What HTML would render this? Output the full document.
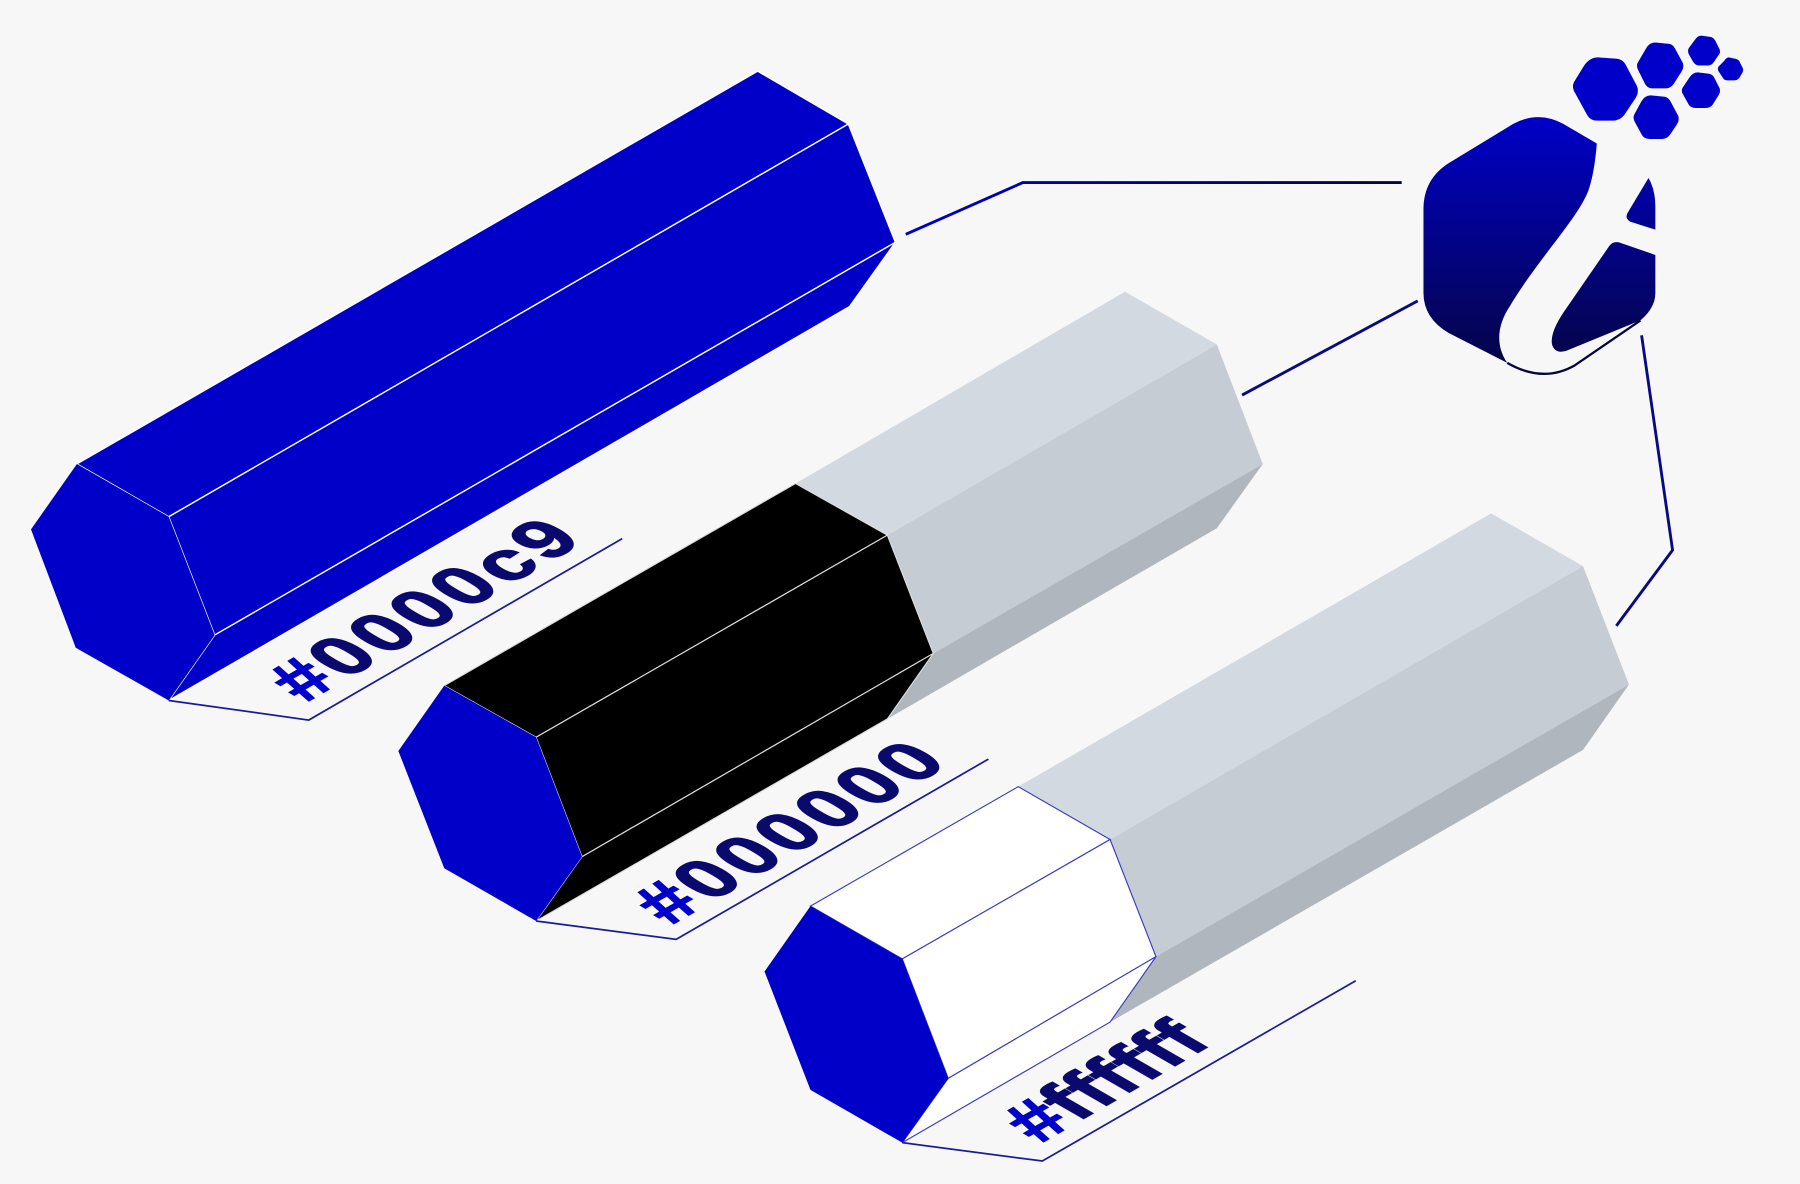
<!DOCTYPE html>
<html><head><meta charset="utf-8"><style>
html,body{margin:0;padding:0;background:#f7f7f7;}
svg{display:block;}
text{font-family:"Liberation Sans",sans-serif;font-weight:bold;}
</style></head><body>
<svg width="1800" height="1184" viewBox="0 0 1568 1031" preserveAspectRatio="none" xmlns="http://www.w3.org/2000/svg">
<defs>
<linearGradient id="lg" x1="0" y1="100" x2="0" y2="330" gradientUnits="userSpaceOnUse"><stop offset="0" stop-color="#0000c9"/><stop offset="1" stop-color="#050540"/></linearGradient>
<linearGradient id="ln" x1="0" y1="0" x2="1" y2="0"><stop offset="0" stop-color="#0000c9"/><stop offset="1" stop-color="#050540"/></linearGradient>
</defs>
<rect width="1568" height="1031" fill="#f7f7f7"/>

<!-- Prism 1 -->
<g stroke="#ffffff" stroke-width="1.2" fill="#0000c9">
<polygon points="67,404 660,62 739,108 147,450"/>
<polygon points="147,450 739,108 780,211 187,553"/>
<polygon points="187,553 780,211 740,267 147,610"/>
<polygon points="67,404 147,450 187,553 147,610 66,564 27,461" stroke="none"/>
</g>
<polyline points="147,610 269,627 542,469" fill="none" stroke="#1a1a9a" stroke-width="1.5"/>
<text transform="matrix(0.866,-0.5,0.866,0.5,266,612)" font-size="66" letter-spacing="4" fill="#0a0a6e" stroke="#0a0a6e" stroke-width="1.5"><tspan fill="#0000c9" stroke="#0000c9">#</tspan>0000c9</text>

<!-- Prism 2 -->
<g stroke="#dddddd" stroke-width="1">
<polygon points="693,421 980,254 1060,300 773,466" fill="#d3d9e1" stroke="none"/>
<polygon points="773,466 1060,300 1100,404 813,569" fill="#c6ccd4" stroke="none"/>
<polygon points="813,569 1100,404 1060,460 773,626" fill="#b0b6bd" stroke="none"/>
<polygon points="387,597 693,421 773,466 467,642" fill="#000"/>
<polygon points="467,642 773,466 813,569 507,746" fill="#000"/>
<polygon points="507,746 813,569 773,626 467,802" fill="#000"/>
</g>
<polygon points="387,597 467,642 507,746 467,802 387,756 347,654" fill="#0000c9"/>
<polyline points="467,802 589,818 861,661" fill="none" stroke="#1a1a9a" stroke-width="1.5"/>
<text transform="matrix(0.866,-0.5,0.866,0.5,584,806)" font-size="66" letter-spacing="4" fill="#0a0a6e" stroke="#0a0a6e" stroke-width="1.5"><tspan fill="#0000c9" stroke="#0000c9">#</tspan>000000</text>

<!-- Prism 3 -->
<polygon points="887,685 1299,447 1379,493 967,731" fill="#d3d9e1"/>
<polygon points="967,731 1379,493 1419,596 1007,833" fill="#c6ccd4"/>
<polygon points="1007,833 1419,596 1379,653 967,890" fill="#b0b6bd"/>
<g fill="#ffffff" stroke="#3b3bc0" stroke-width="1">
<polygon points="706,789 887,685 967,731 786,835"/>
<polygon points="786,835 967,731 1007,833 826,939"/>
<polygon points="826,939 1007,833 967,890 786,995"/>
</g>
<polygon points="706,789 786,835 826,939 786,995 706,949 666,846" fill="#0000c9"/>
<polyline points="786,995 908,1011 1181,854" fill="none" stroke="#1a1a9a" stroke-width="1.5"/>
<text transform="matrix(0.866,-0.5,0.866,0.5,906,996)" font-size="66" letter-spacing="1" fill="#0a0a6e" stroke="#0a0a6e" stroke-width="1.5"><tspan fill="#0000c9" stroke="#0000c9">#</tspan>ffffff</text>

<!-- connectors -->
<polyline points="789,204 891,159 1221,159" fill="none" stroke="url(#ln)" stroke-width="2.5"/>
<line x1="1082" y1="344" x2="1235" y2="262" stroke="#0a0a80" stroke-width="2.5"/>
<polyline points="1408,545 1457,479 1430,292" fill="none" stroke="#0a0a80" stroke-width="2.5"/>

<!-- logo -->
<g fill="url(#lg)">
<path d="M1391,125 L1362,108 Q1340,96 1318,108 L1262,142 Q1240,156 1240,182 L1240,255 Q1240,277 1262,290 L1313,316 C1302,300 1305,282 1315,267 C1340,225 1375,190 1384,165 Q1389,150 1391,125 Z"/>
<path d="M1436,155 Q1442,165 1442,180 L1442,200 L1420,193 Q1415,190 1418,185 Z"/>
<path d="M1442,222 L1410,211 Q1405,210 1402,214 L1362,272 Q1350,290 1352,300 Q1355,310 1368,304 L1429,279 Q1442,268 1442,255 Z"/>
</g>
<path d="M1429,279 L1372,318 Q1344,334 1313,316" fill="none" stroke="#050540" stroke-width="2"/>
<g fill="#0000c9">
<path d="M1380,57 Q1385,50 1392,50 L1407,51 Q1414,51 1417,58 L1426,75 Q1428,80 1425,85 L1415,100 Q1411,105 1405,105 L1391,105 Q1385,105 1382,99 L1371,79 Q1369,74 1372,70 Z"/>
<path d="M1434,42 Q1437,37 1442,37 L1452,38 Q1457,38 1459,42 L1466,55 Q1467,59 1465,62 L1458,73 Q1455,77 1451,77 L1440,77 Q1435,77 1433,73 L1427,61 Q1425,57 1427,54 Z"/>
<path d="M1430,88 Q1433,83 1438,83 L1448,84 Q1453,84 1455,88 L1462,101 Q1463,105 1461,108 L1455,117 Q1452,121 1448,121 L1437,121 Q1432,121 1430,117 L1424,106 Q1422,102 1424,99 Z"/>
<path d="M1477,34 Q1479,31 1482,31 L1489,32 Q1492,32 1494,35 L1498,43 Q1499,46 1497,48 L1493,54 Q1491,57 1488,57 L1480,57 Q1477,57 1475,54 L1471,47 Q1470,44 1471,42 Z"/>
<path d="M1472,67 Q1475,63 1479,63 L1487,64 Q1491,64 1493,67 L1498,77 Q1499,80 1497,83 L1492,91 Q1490,94 1486,94 L1477,94 Q1473,94 1471,91 L1466,82 Q1464,79 1466,76 Z"/>
<path d="M1502,53 Q1504,50 1506,50 L1511,51 Q1513,51 1515,53 L1518,59 Q1519,61 1518,63 L1515,68 Q1513,70 1511,70 L1505,70 Q1502,70 1501,68 L1497,62 Q1496,60 1497,58 Z"/>
</g>
</svg>
</body></html>
